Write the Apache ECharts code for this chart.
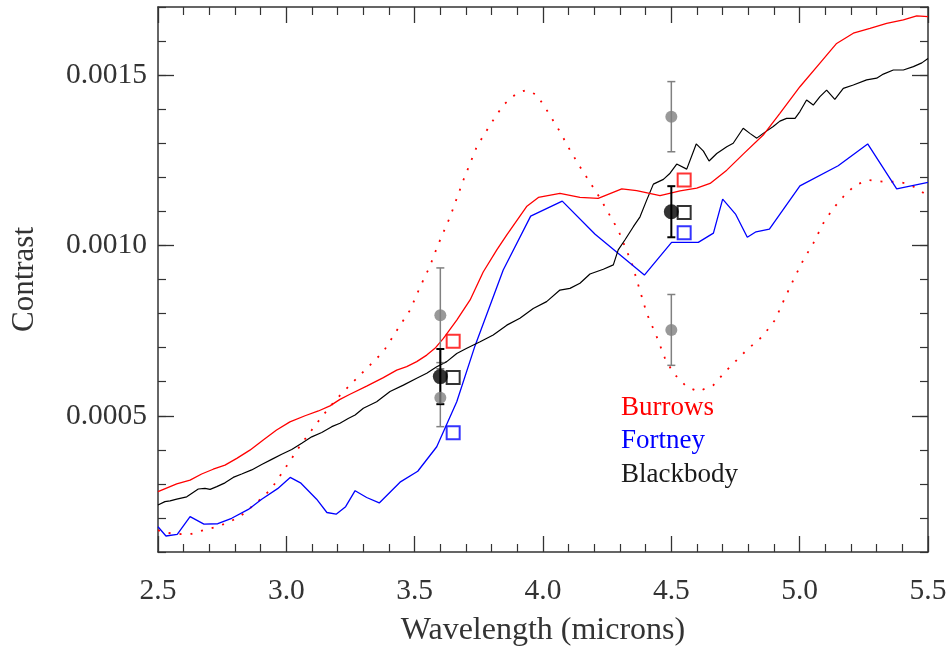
<!DOCTYPE html>
<html>
<head>
<meta charset="utf-8">
<script src="https://cdn.jsdelivr.net/npm/echarts@6/dist/echarts.min.js"></script>
<style>
html,body{margin:0;padding:0;background:#ffffff;}
#chart{width:951px;height:656px;}
</style>
</head>
<body>
<div id="chart"></div>
<script>
// ---------- axis definitions ----------
const xRange = [2.5, 5.5];
const yRange = [0.0001, 0.0017];
const xTickLabels = [2.5, 3.0, 3.5, 4.0, 4.5, 5.0, 5.5];
const yTickLabels = [0.0005, 0.0010, 0.0015];
const xAxisTitle = 'Wavelength (microns)';
const yAxisTitle = 'Contrast';

// ---------- model curves: [wavelength (micron), contrast] ----------
const burrows = [
  [2.500,2.77e-4],[2.573,3.00e-4],[2.625,3.11e-4],[2.670,3.29e-4],[2.715,3.43e-4],[2.761,3.55e-4],
  [2.807,3.75e-4],[2.858,3.99e-4],[2.910,4.29e-4],[2.962,4.58e-4],[3.014,4.82e-4],[3.073,5.00e-4],
  [3.125,5.14e-4],[3.170,5.29e-4],[3.209,5.48e-4],[3.248,5.63e-4],[3.313,5.87e-4],[3.378,6.12e-4],
  [3.430,6.34e-4],[3.469,6.44e-4],[3.508,6.59e-4],[3.547,6.78e-4],[3.579,6.98e-4],[3.612,7.27e-4],
  [3.664,7.81e-4],[3.716,8.40e-4],[3.767,9.22e-4],[3.820,9.87e-4],[3.859,10.31e-4],[3.936,11.14e-4],
  [3.982,11.41e-4],[4.066,11.53e-4],[4.144,11.41e-4],[4.215,11.38e-4],[4.307,11.66e-4],[4.365,11.61e-4],
  [4.456,11.46e-4],[4.534,11.60e-4],[4.599,11.68e-4],[4.651,11.82e-4],[4.716,12.21e-4],[4.780,12.68e-4],
  [4.858,13.24e-4],[4.923,13.88e-4],[5.001,14.66e-4],[5.079,15.35e-4],[5.144,15.93e-4],[5.209,16.23e-4],
  [5.274,16.37e-4],[5.339,16.52e-4],[5.404,16.62e-4],[5.456,16.74e-4],[5.500,16.72e-4]
];

const burrowsDotted = [
  [2.500,1.64e-4],[2.527,1.57e-4],[2.573,1.53e-4],[2.625,1.52e-4],[2.677,1.64e-4],[2.729,1.74e-4],
  [2.781,1.89e-4],[2.826,2.08e-4],[2.865,2.33e-4],[2.904,2.58e-4],[2.943,2.87e-4],[2.982,3.31e-4],
  [3.021,3.75e-4],[3.060,4.19e-4],[3.099,4.58e-4],[3.138,4.97e-4],[3.194,5.48e-4],[3.248,5.90e-4],
  [3.313,6.39e-4],[3.378,6.88e-4],[3.436,7.57e-4],[3.482,8.10e-4],[3.521,8.78e-4],[3.560,9.40e-4],
  [3.590,10.00e-4],[3.638,10.84e-4],[3.690,11.92e-4],[3.742,12.90e-4],[3.794,13.54e-4],[3.845,14.12e-4],
  [3.898,14.47e-4],[3.934,14.56e-4],[3.976,14.42e-4],[4.014,13.98e-4],[4.066,13.34e-4],[4.105,12.80e-4],
  [4.144,12.31e-4],[4.222,11.39e-4],[4.293,10.45e-4],[4.346,9.48e-4],[4.385,8.49e-4],[4.404,8.01e-4],
  [4.443,7.32e-4],[4.475,6.69e-4],[4.508,6.25e-4],[4.560,5.85e-4],[4.605,5.71e-4],[4.664,5.90e-4],
  [4.716,6.34e-4],[4.794,6.93e-4],[4.855,7.33e-4],[4.904,7.81e-4],[4.939,8.40e-4],[4.975,8.98e-4],
  [5.014,9.57e-4],[5.053,10.06e-4],[5.092,10.65e-4],[5.131,11.09e-4],[5.170,11.43e-4],[5.216,11.77e-4],
  [5.267,11.92e-4],[5.326,11.87e-4],[5.378,11.87e-4],[5.417,11.82e-4],[5.456,11.68e-4],[5.500,11.45e-4]
];

const fortney = [
  [2.500,1.74e-4],[2.531,1.47e-4],[2.575,1.52e-4],[2.625,2.04e-4],[2.679,1.82e-4],[2.733,1.83e-4],
  [2.787,1.99e-4],[2.852,2.25e-4],[2.904,2.55e-4],[2.966,2.86e-4],[3.015,3.19e-4],[3.057,3.02e-4],
  [3.118,2.55e-4],[3.158,2.16e-4],[3.194,2.11e-4],[3.231,2.33e-4],[3.268,2.80e-4],[3.313,2.60e-4],
  [3.362,2.44e-4],[3.443,3.05e-4],[3.512,3.37e-4],[3.586,4.09e-4],[3.664,5.41e-4],[3.735,7.05e-4],
  [3.845,9.28e-4],[3.952,10.86e-4],[4.075,11.30e-4],[4.203,10.33e-4],[4.395,9.13e-4],[4.501,10.09e-4],
  [4.605,10.09e-4],[4.664,10.36e-4],[4.700,11.36e-4],[4.751,10.91e-4],[4.796,10.24e-4],[4.830,10.40e-4],
  [4.882,10.48e-4],[5.001,11.75e-4],[5.150,12.34e-4],[5.265,12.98e-4],[5.378,11.66e-4],[5.500,11.85e-4]
];

const blackbody = [
  [2.500,2.38e-4],[2.527,2.48e-4],[2.547,2.50e-4],[2.573,2.55e-4],[2.612,2.62e-4],[2.631,2.72e-4],
  [2.657,2.85e-4],[2.683,2.87e-4],[2.703,2.84e-4],[2.729,2.92e-4],[2.761,3.03e-4],[2.793,3.19e-4],
  [2.826,3.29e-4],[2.865,3.41e-4],[2.904,3.57e-4],[2.943,3.72e-4],[2.982,3.87e-4],[3.021,4.01e-4],
  [3.060,4.19e-4],[3.099,4.38e-4],[3.138,4.51e-4],[3.177,4.68e-4],[3.209,4.78e-4],[3.241,4.92e-4],
  [3.268,5.02e-4],[3.300,5.22e-4],[3.352,5.41e-4],[3.404,5.71e-4],[3.456,5.90e-4],[3.508,6.10e-4],
  [3.547,6.25e-4],[3.586,6.44e-4],[3.625,6.59e-4],[3.664,6.83e-4],[3.703,6.98e-4],[3.755,7.17e-4],
  [3.806,7.37e-4],[3.859,7.66e-4],[3.910,7.86e-4],[3.962,8.15e-4],[4.014,8.35e-4],[4.066,8.69e-4],
  [4.105,8.74e-4],[4.144,8.89e-4],[4.183,9.16e-4],[4.235,9.30e-4],[4.274,9.43e-4],[4.293,9.87e-4],
  [4.319,10.16e-4],[4.352,10.55e-4],[4.378,10.84e-4],[4.404,11.33e-4],[4.430,11.80e-4],[4.469,11.94e-4],
  [4.495,12.12e-4],[4.521,12.39e-4],[4.560,12.24e-4],[4.597,12.98e-4],[4.625,12.77e-4],[4.647,12.48e-4],
  [4.677,12.70e-4],[4.716,12.90e-4],[4.741,13.00e-4],[4.780,13.44e-4],[4.806,13.29e-4],[4.833,13.15e-4],
  [4.858,13.29e-4],[4.897,13.49e-4],[4.923,13.65e-4],[4.949,13.73e-4],[4.982,13.73e-4],[5.001,13.93e-4],
  [5.027,14.27e-4],[5.053,14.12e-4],[5.079,14.37e-4],[5.105,14.56e-4],[5.137,14.29e-4],[5.170,14.61e-4],
  [5.209,14.71e-4],[5.261,14.86e-4],[5.300,14.91e-4],[5.326,15.03e-4],[5.365,15.15e-4],[5.404,15.15e-4],
  [5.443,15.25e-4],[5.476,15.36e-4],[5.500,15.49e-4]
];

// ---------- measurements: [wavelength, contrast, error] ----------
const grayPoints = [
  [3.6, 7.95e-4, 1.39e-4],
  [3.6, 5.53e-4, 0.85e-4],
  [4.5, 13.78e-4, 1.03e-4],
  [4.5, 7.52e-4, 1.04e-4]
];
const blackPoints = [
  [3.6, 6.15e-4, 0.81e-4],
  [4.5, 10.99e-4, 0.75e-4]
];

// ---------- band-integrated model values (open squares) ----------
const burrowsBand = [[3.65, 7.19e-4], [4.55, 11.92e-4]];
const blackbodyBand = [[3.65, 6.12e-4], [4.55, 10.97e-4]];
const fortneyBand = [[3.65, 4.50e-4], [4.55, 10.37e-4]];

// ---------- legend ----------
const legendNames = ['Burrows', 'Fortney', 'Blackbody'];
const legendColors = ['#ff0000', '#0000ff', '#1a1a1a'];

// ---------- build chart ----------
const FONT = '"Liberation Serif", "DejaVu Serif", serif';
const AX = '#333333';

function errorBarSeries(data, color, lw, cap) {
  return {
    type: 'custom',
    data: data,
    dimensions: ['x', 'y', 'e'],
    encode: { x: 0, y: 1 },
    z: 5,
    silent: true,
    renderItem: function (params, api) {
      const x = api.value(0), y = api.value(1), e = api.value(2);
      const t = api.coord([x, y + e]);
      const b = api.coord([x, y - e]);
      const st = { stroke: color, lineWidth: lw };
      return {
        type: 'group',
        children: [
          { type: 'line', shape: { x1: t[0], y1: t[1], x2: b[0], y2: b[1] }, style: st },
          { type: 'line', shape: { x1: t[0] - cap, y1: t[1], x2: t[0] + cap, y2: t[1] }, style: st },
          { type: 'line', shape: { x1: b[0] - cap, y1: b[1], x2: b[0] + cap, y2: b[1] }, style: st }
        ]
      };
    }
  };
}

function squareSeries(data, color) {
  return {
    type: 'scatter',
    data: data,
    symbol: 'rect',
    symbolSize: 13,
    z: 6,
    itemStyle: { color: 'rgba(255,255,255,0)', borderColor: color, borderWidth: 2 }
  };
}

const chart = echarts.init(document.getElementById('chart'), null, { renderer: 'canvas' });

const xCommon = {
  type: 'value', min: xRange[0], max: xRange[1], interval: 0.5,
  splitLine: { show: false },
  axisLine: { show: true, onZero: false, lineStyle: { color: AX, width: 1.5 } },
  axisTick: { show: true, inside: true, length: 16, lineStyle: { color: AX, width: 1.3 } },
  minorTick: { show: true, splitNumber: 5, length: 8, lineStyle: { color: AX, width: 1.2 } },
  minorSplitLine: { show: false }
};

const option = {
  animation: false,
  backgroundColor: '#ffffff',
  grid: { left: 158, top: 7, right: 23, bottom: 104, containLabel: false },
  xAxis: [
    Object.assign({}, xCommon, {
      position: 'bottom',
      name: xAxisTitle, nameLocation: 'middle', nameGap: 63,
      nameTextStyle: { fontFamily: FONT, fontSize: 32, color: AX },
      axisLabel: {
        show: true, margin: 24, fontFamily: FONT, fontSize: 29.5, color: AX,
        customValues: xTickLabels,
        formatter: v => Number(v).toFixed(1)
      }
    }),
    Object.assign({}, xCommon, { position: 'top', axisLabel: { show: false } })
  ],
  yAxis: [
    {
      type: 'value', min: yRange[0], max: yRange[1], interval: 0.0001, position: 'left',
      name: yAxisTitle, nameLocation: 'middle', nameGap: 118, nameRotate: 90,
      nameTextStyle: { fontFamily: FONT, fontSize: 31, color: AX },
      splitLine: { show: false },
      axisLine: { show: true, onZero: false, lineStyle: { color: AX, width: 1.5 } },
      axisTick: { show: true, inside: true, length: 8, lineStyle: { color: AX, width: 1.2 } },
      axisLabel: {
        show: true, margin: 11, fontFamily: FONT, fontSize: 29.5, color: AX,
        customValues: yTickLabels,
        formatter: v => Number(v).toFixed(4)
      }
    },
    {
      type: 'value', min: yRange[0], max: yRange[1], position: 'left',
      splitLine: { show: false },
      axisLine: { show: false },
      axisTick: { show: true, inside: true, length: 16, customValues: yTickLabels, lineStyle: { color: AX, width: 1.3 } },
      axisLabel: { show: false }
    },
    {
      type: 'value', min: yRange[0], max: yRange[1], interval: 0.0001, position: 'right',
      splitLine: { show: false },
      axisLine: { show: true, onZero: false, lineStyle: { color: AX, width: 1.5 } },
      axisTick: { show: true, inside: true, length: 8, lineStyle: { color: AX, width: 1.2 } },
      axisLabel: { show: false }
    },
    {
      type: 'value', min: yRange[0], max: yRange[1], position: 'right',
      splitLine: { show: false },
      axisLine: { show: false },
      axisTick: { show: true, inside: true, length: 16, customValues: yTickLabels, lineStyle: { color: AX, width: 1.3 } },
      axisLabel: { show: false }
    }
  ],
  series: [
    { type: 'line', name: 'Burrows dotted', data: burrowsDotted, showSymbol: false, smooth: false,
      lineStyle: { color: '#ff0000', width: 1.8, type: [2, 9] }, z: 2 },
    { type: 'line', name: 'Fortney', data: fortney, showSymbol: false,
      lineStyle: { color: '#0000ff', width: 1.3 }, z: 2 },
    { type: 'line', name: 'Blackbody', data: blackbody, showSymbol: false,
      lineStyle: { color: '#000000', width: 1.2 }, z: 2 },
    { type: 'line', name: 'Burrows', data: burrows, showSymbol: false,
      lineStyle: { color: '#ff0000', width: 1.3 }, z: 2 },
    errorBarSeries(grayPoints, '#808080', 1.5, 4),
    { type: 'scatter', data: grayPoints.map(p => [p[0], p[1]]), symbol: 'circle', symbolSize: 12,
      itemStyle: { color: '#808080' }, z: 6 },
    errorBarSeries(blackPoints, '#000000', 2, 4),
    { type: 'scatter', data: blackPoints.map(p => [p[0], p[1]]), symbol: 'circle', symbolSize: 15,
      itemStyle: { color: '#000000' }, z: 7 },
    squareSeries(burrowsBand, '#ff0000'),
    squareSeries(blackbodyBand, '#000000'),
    squareSeries(fortneyBand, '#0000ff')
  ],
  graphic: legendNames.map((name, i) => ({
    type: 'text',
    x: 621,
    y: [408, 441, 475][i],
    style: {
      text: name, fill: legendColors[i],
      fontFamily: FONT, fontSize: 27,
      verticalAlign: 'middle', align: 'left'
    }
  }))
};

chart.setOption(option);
</script>
</body>
</html>
